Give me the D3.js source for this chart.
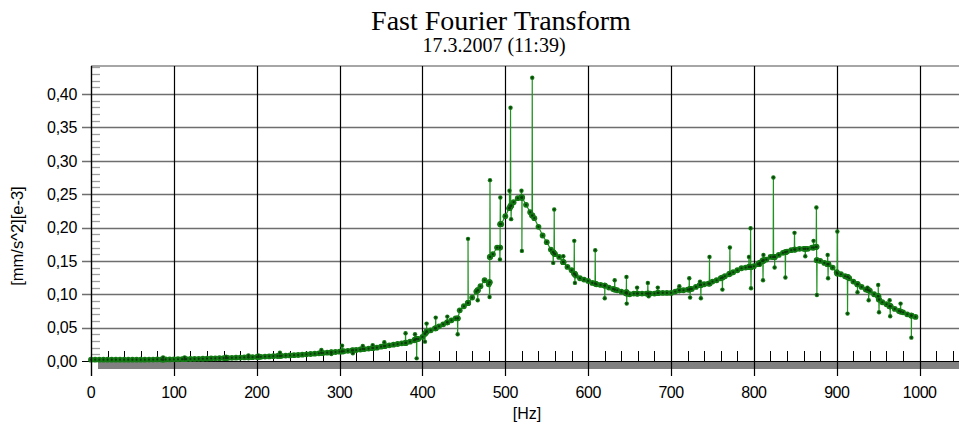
<!DOCTYPE html>
<html>
<head>
<meta charset="utf-8">
<script src="https://cdn.jsdelivr.net/npm/d3@7"></script>
<style>
  html, body { margin: 0; padding: 0; background: #fff; }
  svg { display: block; }
</style>
</head>
<body>
<svg id="chart" width="959" height="425"></svg>
<script>
// ---- data ----
const titleText = "Fast Fourier Transform";
const subtitleText = "17.3.2007 (11:39)";
const xLabel = "[Hz]";
const yLabel = "[mm/s^2][e-3]";

const xTicks = [0, 100, 200, 300, 400, 500, 600, 700, 800, 900, 1000];
const yTicks = [0, 0.05, 0.10, 0.15, 0.20, 0.25, 0.30, 0.35, 0.40];

// main spectrum curve, sampled every 5 Hz (0 .. 995 Hz)
const curveStartHz = 0, curveStepHz = 5;
const curveAmp = [
  0.002, 0.002, 0.002, 0.002, 0.002, 0.002, 0.002, 0.002, 0.002, 0.002,          // 0-45
  0.002, 0.002, 0.002, 0.002, 0.0022, 0.0022, 0.0023, 0.0023, 0.0024, 0.0024,    // 50-95
  0.0025, 0.0026, 0.0027, 0.0029, 0.003, 0.0031, 0.0033, 0.0034, 0.0036, 0.0038, // 100-145
  0.004, 0.0042, 0.0044, 0.0046, 0.0048, 0.005, 0.0052, 0.0054, 0.0056, 0.0058,  // 150-195
  0.006, 0.0063, 0.0066, 0.0069, 0.0072, 0.0075, 0.0078, 0.0081, 0.0084, 0.0087, // 200-245
  0.009, 0.0095, 0.010, 0.0105, 0.011, 0.0115, 0.012, 0.0125, 0.013, 0.0135,    // 250-295
  0.014, 0.0146, 0.0152, 0.0158, 0.0165, 0.0172, 0.0179, 0.0186, 0.0193, 0.0200, // 300-345
  0.0215, 0.0225, 0.0235, 0.0245, 0.0255, 0.0265, 0.0275, 0.0290, 0.0310, 0.0330, // 350-395
  0.036, 0.044, 0.046, 0.049, 0.052, 0.055, 0.058, 0.061, 0.064, 0.076,          // 400-445
  0.082, 0.087, 0.095, 0.104, 0.112, 0.121, 0.115, 0.160, 0.170, 0.205,          // 450-495
  0.217, 0.229, 0.238, 0.244, 0.245, 0.234, 0.223, 0.214, 0.201, 0.188,          // 500-545
  0.178, 0.167, 0.160, 0.156, 0.148, 0.141, 0.136, 0.128, 0.124, 0.122,          // 550-595
  0.120, 0.117, 0.115, 0.114, 0.113, 0.110, 0.108, 0.106, 0.104, 0.102,          // 600-645
  0.100, 0.101, 0.101, 0.101, 0.101, 0.101, 0.101, 0.102, 0.102, 0.102,          // 650-695
  0.102, 0.104, 0.106, 0.106, 0.107, 0.108, 0.111, 0.114, 0.115, 0.116,          // 700-745
  0.119, 0.121, 0.124, 0.127, 0.130, 0.133, 0.136, 0.139, 0.140, 0.141,          // 750-795
  0.142, 0.145, 0.150, 0.152, 0.156, 0.156, 0.159, 0.162, 0.164, 0.166,          // 800-845
  0.167, 0.168, 0.168, 0.168, 0.170, 0.171, 0.150, 0.147, 0.145, 0.140,          // 850-895
  0.133, 0.130, 0.127, 0.124, 0.119, 0.115, 0.111, 0.107, 0.105, 0.100,          // 900-945
  0.097, 0.088, 0.085, 0.082, 0.078, 0.075, 0.073, 0.070, 0.068, 0.066           // 950-995
];

// single-bin outliers (peaks and dips) off the main curve
const peakHz = [
  87, 113, 163, 190, 202, 228, 278, 290, 303, 316, 328, 340, 354,
  379.6, 391, 393, 403, 405, 416, 430, 442.5, 455, 466.7, 481, 481.5,
  493.5, 494, 505, 506.3, 507, 519.5, 520, 532.5, 557.8, 559, 570,
  583.2, 584, 608.5, 620, 632, 646.2, 646.5, 659, 672, 673, 684, 710,
  722, 723, 735, 736, 746.4, 762, 771, 794, 796, 796.5, 807, 811, 811.5,
  823.5, 825, 838, 849, 862, 872, 875.4, 876, 889, 889.5, 900.7, 913,
  925, 937, 938.5, 950, 951, 963.8, 964.5, 977, 990
];
const peakAmp = [
  0.0055, 0.0055, 0.0065, 0.0085, 0.0085, 0.0125, 0.0165, 0.0105, 0.023, 0.0115, 0.0225, 0.0238, 0.028,
  0.0415, 0.040, 0.004, 0.029, 0.056, 0.065, 0.0665, 0.040, 0.183, 0.091, 0.096, 0.271,
  0.152, 0.245, 0.255, 0.3795, 0.2125, 0.255, 0.165, 0.4245, 0.147, 0.227, 0.157,
  0.180, 0.117, 0.166, 0.094, 0.121, 0.126, 0.086, 0.110, 0.117, 0.097, 0.110, 0.112,
  0.124, 0.095, 0.119, 0.094, 0.156, 0.107, 0.170, 0.156, 0.199, 0.109, 0.144, 0.121, 0.159,
  0.275, 0.140, 0.125, 0.192, 0.157, 0.180, 0.230, 0.099, 0.159, 0.124, 0.194, 0.071,
  0.103, 0.110, 0.091, 0.114, 0.073, 0.091, 0.067, 0.086, 0.035
];
// curve level at the foot of each outlier (the neighbouring bins)
const peakFootAmp = [
  0.0022, 0.0027, 0.0045, 0.0056, 0.0061, 0.0078, 0.0122, 0.0130, 0.0143, 0.0160, 0.0183, 0.0195, 0.0223,
  0.027, 0.032, 0.033, 0.041, 0.044, 0.049, 0.058, 0.064, 0.087, 0.106, 0.118, 0.156,
  0.170, 0.205, 0.229, 0.232, 0.233, 0.245, 0.245, 0.218, 0.163, 0.161, 0.148,
  0.131, 0.130, 0.116, 0.113, 0.107, 0.103, 0.101, 0.101, 0.101, 0.101, 0.102, 0.106,
  0.107, 0.108, 0.114, 0.114, 0.116, 0.125, 0.131, 0.141, 0.141, 0.141, 0.147, 0.150, 0.151,
  0.156, 0.156, 0.163, 0.167, 0.168, 0.170, 0.171, 0.151, 0.145, 0.145, 0.131, 0.126,
  0.115, 0.107, 0.106, 0.097, 0.092, 0.082, 0.082, 0.074, 0.068
];
const footOffsetHz = 0.25;

// ---- build series ----
const series = [];
curveAmp.forEach((a, i) => series.push({ hz: curveStartHz + i * curveStepHz, v: a, kind: "curve" }));
peakHz.forEach((h, i) => {
  series.push({ hz: h - footOffsetHz, v: peakFootAmp[i], kind: "curve" });
  series.push({ hz: h, v: peakAmp[i], kind: "peak" });
  series.push({ hz: h + footOffsetHz, v: peakFootAmp[i], kind: "curve" });
});
series.sort((a, b) => a.hz - b.hz);

// ---- layout ----
const svg = d3.select("#chart");
const plotLeft = 91, plotRight = 959, plotTop = 66, plotBottom = 361;

const x = d3.scaleLinear().domain([0, 1047.5]).range([plotLeft, plotRight]);
const y = d3.scaleLinear().domain([0, 0.442]).range([plotBottom, plotTop]);

const fontSans = "'Liberation Sans', Arial, sans-serif";
const fontSerif = "'Liberation Serif', 'Times New Roman', serif";

// titles
svg.append("text").attr("x", 501).attr("y", 29.5).attr("text-anchor", "middle")
  .attr("font-family", fontSerif).attr("font-size", 28)
  .attr("fill", "#000").text(titleText);
svg.append("text").attr("x", 494).attr("y", 52).attr("text-anchor", "middle")
  .attr("font-family", fontSerif).attr("font-size", 20)
  .attr("fill", "#000").text(subtitleText);

// top border
svg.append("line").attr("x1", plotLeft).attr("x2", plotRight)
  .attr("y1", plotTop).attr("y2", plotTop)
  .attr("stroke", "#888").attr("stroke-width", 1.5);

// horizontal gridlines + major y ticks (gray)
const gGrid = svg.append("g");
yTicks.filter(t => t > 0).forEach(t => {
  gGrid.append("line").attr("x1", plotLeft - 9).attr("x2", plotRight)
    .attr("y1", Math.round(y(t)) + 0.5).attr("y2", Math.round(y(t)) + 0.5)
    .attr("stroke", "#6e6e6e").attr("stroke-width", 1.3);
});

// minor y ticks every 0.01
d3.range(1, 45).forEach(k => {
  const t = k / 100;
  if (k % 5 === 0) return;
  gGrid.append("line").attr("x1", plotLeft).attr("x2", plotLeft + 9)
    .attr("y1", Math.round(y(t)) + 0.5).attr("y2", Math.round(y(t)) + 0.5)
    .attr("stroke", "#a0a0a0").attr("stroke-width", 1.3);
});

// gray band under the x axis
svg.append("rect").attr("x", 98).attr("y", plotBottom).attr("width", plotRight - 98)
  .attr("height", 8).attr("fill", "#808080");

// minor x ticks every 20 Hz
d3.range(20, 1047, 20).forEach(f => {
  if (f % 100 === 0) return;
  svg.append("line").attr("x1", Math.round(x(f)) + 0.5).attr("x2", Math.round(x(f)) + 0.5)
    .attr("y1", plotBottom - 10).attr("y2", plotBottom)
    .attr("stroke", "#000").attr("stroke-width", 1);
});

// vertical gridlines (black) at major x ticks
xTicks.forEach(f => {
  svg.append("line").attr("x1", Math.round(x(f)) + 0.5).attr("x2", Math.round(x(f)) + 0.5)
    .attr("y1", plotTop).attr("y2", 376)
    .attr("stroke", "#000").attr("stroke-width", 1.2);
});

// x axis baseline
svg.append("line").attr("x1", plotLeft - 9).attr("x2", plotRight)
  .attr("y1", plotBottom + 0.5).attr("y2", plotBottom + 0.5)
  .attr("stroke", "#000").attr("stroke-width", 1);

// y tick labels
const fmt = d3.format(".2f");
yTicks.forEach(t => {
  svg.append("text").attr("x", 77).attr("y", y(t)).attr("dy", "0.36em")
    .attr("text-anchor", "end").attr("font-family", fontSans).attr("font-size", 16)
    .attr("letter-spacing", -0.3)
    .attr("fill", "#000").text(fmt(t).replace(".", ","));
});

// x tick labels
xTicks.forEach(f => {
  svg.append("text").attr("x", x(f)).attr("y", 398)
    .attr("text-anchor", "middle").attr("font-family", fontSans).attr("font-size", 16)
    .attr("letter-spacing", -0.5)
    .attr("fill", "#000").text(f);
});

// axis titles
svg.append("text").attr("x", 527).attr("y", 419).attr("text-anchor", "middle")
  .attr("font-family", fontSans).attr("font-size", 16).attr("fill", "#000").text(xLabel);
svg.append("text").attr("transform", "translate(23,236) rotate(-90)")
  .attr("text-anchor", "middle").attr("font-family", fontSans).attr("font-size", 16.5)
  .attr("fill", "#000").text(yLabel);

// ---- data series ----
const line = d3.line().x(d => x(d.hz)).y(d => y(d.v));
svg.append("path").datum(series).attr("d", line)
  .attr("fill", "none").attr("stroke", "#1f921f").attr("stroke-width", 1.2);

const gPts = svg.append("g");
gPts.selectAll("circle.o").data(series).enter().append("circle")
  .attr("cx", d => x(d.hz)).attr("cy", d => y(d.v))
  .attr("r", d => d.kind === "curve" ? 2.9 : 2.2)
  .attr("fill", "#137a13");
gPts.selectAll("circle.i").data(series).enter().append("circle")
  .attr("cx", d => x(d.hz)).attr("cy", d => y(d.v)).attr("r", 1.1)
  .attr("fill", "#0d3a0d");

// y axis line (on top)
svg.append("line").attr("x1", plotLeft + 0.5).attr("x2", plotLeft + 0.5)
  .attr("y1", plotTop).attr("y2", 376)
  .attr("stroke", "#000").attr("stroke-width", 1.2);
</script>
</body>
</html>
